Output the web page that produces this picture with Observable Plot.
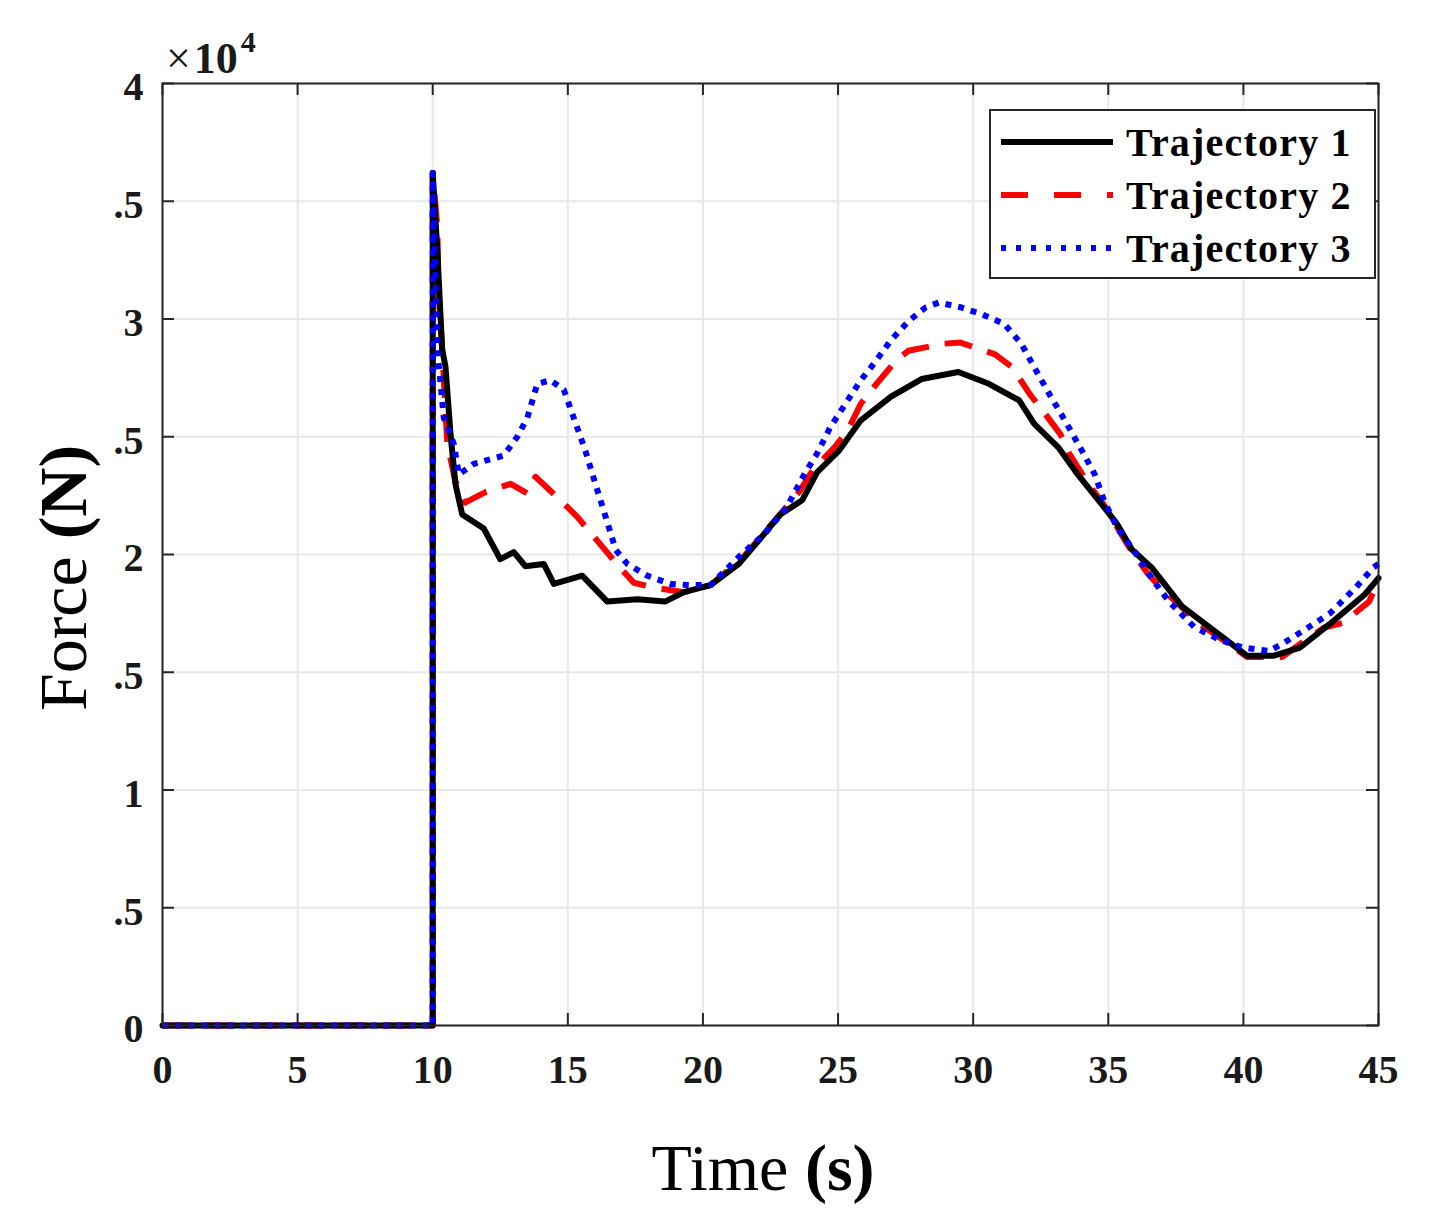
<!DOCTYPE html>
<html>
<head>
<meta charset="utf-8">
<script src="https://cdn.jsdelivr.net/npm/d3@7"></script>
<script src="https://cdn.jsdelivr.net/npm/@observablehq/plot@0.6"></script>
<style>
  html, body { margin: 0; padding: 0; background: #fff; }
  svg { display: block; }
</style>
</head>
<body>
<div id="chart"></div>
<script>
// ---- data (force in units of 1e4 N) ----
const xTicks = [0, 5, 10, 15, 20, 25, 30, 35, 40, 45];
const yTicks = [0, 0.5, 1, 1.5, 2, 2.5, 3, 3.5, 4];
const yTickLabels = ["0", ".5", "1", ".5", "2", ".5", "3", ".5", "4"];
const seriesNames = ["Trajectory 1", "Trajectory 2", "Trajectory 3"];

const t1 = [0,10,10,10.17,10.35,10.47,10.66,10.84,11.09,11.89,12.5,13.0,13.43,14.11,14.48,15.53,16.46,17.57,18.6,19.3,20.28,21.33,22.14,22.86,23.67,24.23,25.03,25.84,26.96,28.09,29.45,30.58,31.7,32.26,33.15,33.87,34.92,35.32,35.88,36.6,37.73,39.34,40.14,41.1,42.1,43.2,44.49,45];
const f1 = [0,0,3.62,3.29,2.87,2.80,2.51,2.30,2.17,2.11,1.98,2.01,1.95,1.96,1.875,1.91,1.80,1.81,1.80,1.84,1.87,1.96,2.07,2.17,2.23,2.35,2.44,2.57,2.67,2.745,2.775,2.725,2.655,2.555,2.455,2.34,2.19,2.13,2.02,1.945,1.78,1.64,1.57,1.57,1.605,1.705,1.83,1.90];

const t2 = [0,10,10,10.17,10.22,10.35,10.54,10.84,11.2,11.95,12.88,13.5,13.8,14.73,15.35,16.08,16.7,17.44,18.18,19.3,20.28,21.1,21.5,22.78,23.59,24.07,24.87,25.35,25.84,26.32,27.12,27.6,28.89,29.53,30.81,31.45,32.1,32.58,33.23,33.55,34.2,34.84,35.72,36.45,36.93,37.73,38.38,39.34,40.14,41.43,42.1,43.0,43.7,44.65,45];
const f2 = [0,0,3.62,3.39,3.10,2.87,2.47,2.31,2.22,2.265,2.30,2.26,2.33,2.23,2.16,2.06,1.975,1.88,1.86,1.84,1.87,1.95,1.99,2.16,2.27,2.36,2.455,2.525,2.64,2.71,2.82,2.865,2.895,2.90,2.85,2.795,2.68,2.61,2.51,2.43,2.31,2.21,2.04,1.92,1.86,1.775,1.705,1.63,1.565,1.565,1.62,1.69,1.71,1.80,1.89];

const t3 = [0,10,10,10.04,10.17,10.41,10.78,10.97,11.52,12.63,13.13,13.5,13.87,14.36,14.85,15.22,15.65,16.02,16.4,16.77,17.2,17.94,18.8,19.54,20.28,21.33,22.3,23.1,23.75,24.23,24.71,25.19,25.84,26.32,26.96,27.6,28.25,28.73,29.53,30.33,31.14,31.78,32.26,32.75,33.39,34.03,34.5,34.84,35.32,35.96,36.6,37.25,38.2,39.18,39.98,40.95,41.43,42.4,43.2,44.16,44.81,45];
const f3 = [0,0,3.62,3.43,2.87,2.58,2.47,2.34,2.385,2.42,2.50,2.58,2.725,2.74,2.70,2.58,2.44,2.30,2.16,2.02,1.96,1.91,1.875,1.87,1.87,1.99,2.09,2.20,2.34,2.43,2.54,2.625,2.74,2.81,2.91,2.99,3.05,3.07,3.05,3.02,2.98,2.895,2.795,2.695,2.57,2.44,2.34,2.23,2.115,2.015,1.90,1.80,1.69,1.635,1.605,1.59,1.62,1.69,1.75,1.86,1.945,1.96];

const toRows = (ts, fs) => ts.map((t, i) => ({t, f: fs[i]}));
const d1 = toRows(t1, f1), d2 = toRows(t2, f2), d3s = toRows(t3, f3);

const FONT = "'Liberation Serif', 'Times New Roman', serif";
const INK = "#262626";
const xTickLen = 12 / 27.02;   // in x units
const yTickLen = 12 / 235.5;   // in y units

const styles = [
  {stroke: "#000000", strokeWidth: 6, strokeDasharray: null, cap: "round"},
  {stroke: "#ff0000", strokeWidth: 6, strokeDasharray: "28,16", cap: "butt"},
  {stroke: "#0000ff", strokeWidth: 6, strokeDasharray: "6,7", cap: "butt"}
];
const lineMark = (d, i) => Plot.line(d, {
  x: "t", y: "f",
  stroke: styles[i].stroke,
  strokeWidth: styles[i].strokeWidth,
  strokeDasharray: styles[i].strokeDasharray,
  strokeLinecap: styles[i].cap,
  strokeLinejoin: "round"
});

const chart = Plot.plot({
  width: 1440,
  height: 1222,
  marginLeft: 162,
  marginRight: 62,
  marginTop: 83,
  marginBottom: 197,
  x: {domain: [0, 45], axis: null},
  y: {domain: [0, 4], axis: null},
  style: {fontFamily: FONT, background: "#fff", overflow: "visible"},
  marks: [
    Plot.gridX(xTicks, {stroke: "#e8e8e8", strokeOpacity: 1, strokeWidth: 2}),
    Plot.gridY(yTicks, {stroke: "#e8e8e8", strokeOpacity: 1, strokeWidth: 2}),
    // inward ticks on all four sides
    Plot.ruleX(xTicks, {x: d => d, y1: 0, y2: yTickLen, stroke: INK, strokeWidth: 2}),
    Plot.ruleX(xTicks, {x: d => d, y1: 4 - yTickLen, y2: 4, stroke: INK, strokeWidth: 2}),
    Plot.ruleY(yTicks, {y: d => d, x1: 0, x2: xTickLen, stroke: INK, strokeWidth: 2}),
    Plot.ruleY(yTicks, {y: d => d, x1: 45 - xTickLen, x2: 45, stroke: INK, strokeWidth: 2}),
    // series (red under black, blue on top)
    lineMark(d2, 1),
    lineMark(d1, 0),
    lineMark(d3s, 2),
    Plot.frame({stroke: INK, strokeWidth: 2}),
    // tick labels
    Plot.text(xTicks, {x: d => d, frameAnchor: "bottom", dy: 45, text: d => String(d),
      fontSize: 40, fontWeight: "bold", fill: "#1a1a1a", lineAnchor: "middle"}),
    Plot.text(yTicks, {y: d => d, frameAnchor: "left", dx: -19, dy: 4, text: (d, i) => yTickLabels[i],
      fontSize: 40, fontWeight: "bold", fill: "#1a1a1a", textAnchor: "end", lineAnchor: "middle"})
  ]
});

document.getElementById("chart").appendChild(chart);

// ---- annotations: axis titles, exponent, legend ----
const svg = d3.select(chart);

// exponent label
const ex = svg.append("text")
  .attr("x", 166).attr("y", 73)
  .attr("text-anchor", "start")
  .attr("font-family", FONT).attr("fill", "#1a1a1a");
ex.append("tspan").attr("font-size", 44).text("\u00d7");
ex.append("tspan").attr("font-size", 44).attr("font-weight", "bold").attr("dx", 3).text("10");
ex.append("tspan").attr("font-size", 30).attr("font-weight", "bold").attr("dx", 3).attr("dy", -21).text("4");

// x axis title
const xt = svg.append("text")
  .attr("x", 763).attr("y", 1190)
  .attr("text-anchor", "middle")
  .attr("font-family", FONT).attr("font-size", 66).attr("fill", "#000");
xt.append("tspan").text("Time ");
xt.append("tspan").attr("font-weight", "bold").text("(s)");

// y axis title
const yt = svg.append("text")
  .attr("transform", "translate(86,578) rotate(-90)")
  .attr("text-anchor", "middle")
  .attr("font-family", FONT).attr("font-size", 68).attr("fill", "#000");
yt.append("tspan").text("Force ");
yt.append("tspan").attr("font-weight", "bold").text("(N)");

// legend
const lg = svg.append("g");
lg.append("rect")
  .attr("x", 990).attr("y", 110).attr("width", 385).attr("height", 168)
  .attr("fill", "#fff").attr("stroke", INK).attr("stroke-width", 2);
const rowsY = [142, 195, 248];
seriesNames.forEach((name, i) => {
  const s = styles[i];
  lg.append("line")
    .attr("x1", 1001).attr("x2", 1113).attr("y1", rowsY[i]).attr("y2", rowsY[i])
    .attr("stroke", s.stroke).attr("stroke-width", s.strokeWidth)
    .attr("stroke-dasharray", i === 1 ? "27,26" : (i === 2 ? "5,10" : null))
    .attr("stroke-linecap", "butt");
  lg.append("text")
    .attr("x", 1126).attr("y", rowsY[i] + 14)
    .attr("text-anchor", "start")
    .attr("font-family", FONT).attr("font-size", 40).attr("font-weight", "bold")
    .attr("letter-spacing", 1.2).attr("fill", "#000")
    .text(name);
});
</script>
</body>
</html>
